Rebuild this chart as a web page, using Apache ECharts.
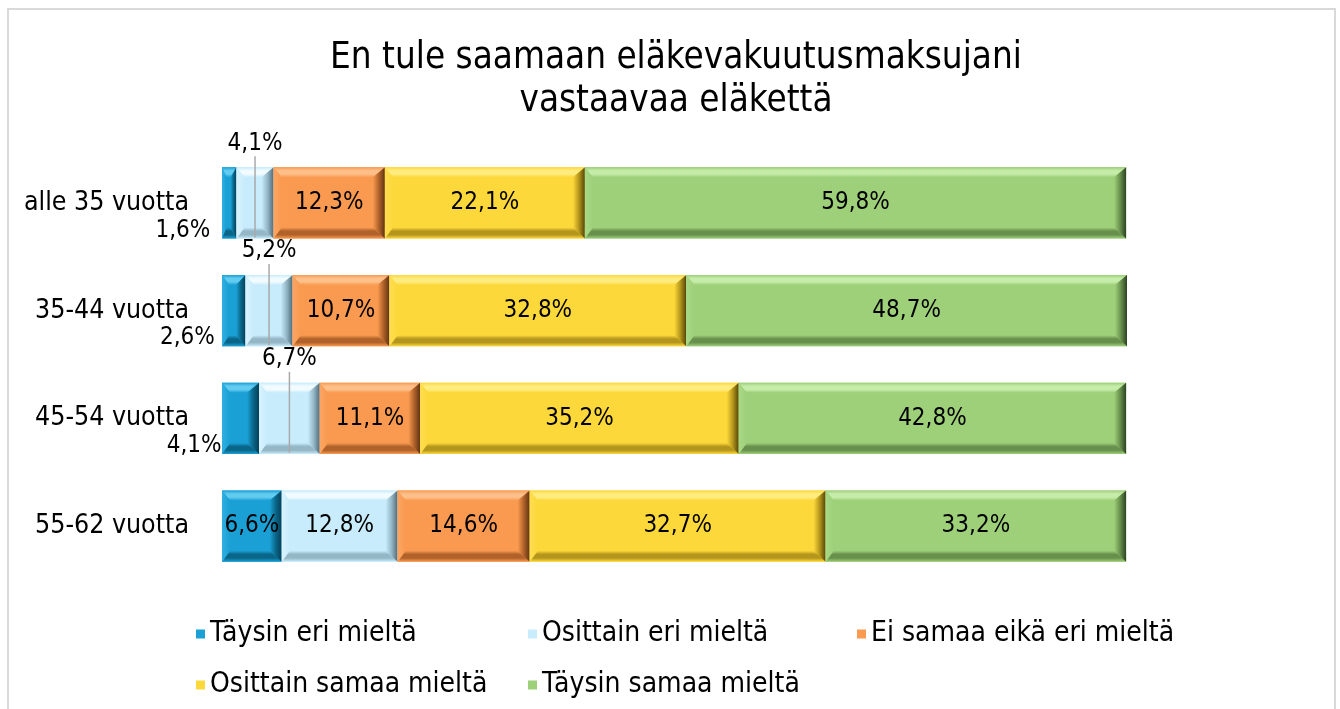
<!DOCTYPE html>
<html>
<head>
<meta charset="utf-8">
<script src="https://cdn.jsdelivr.net/npm/echarts@6/dist/echarts.min.js"></script>
<style>
  html, body { margin: 0; padding: 0; background: #ffffff; }
  #chart { width: 1340px; height: 709px; }
</style>
</head>
<body>
<div id="chart"></div>
<script>
// Age groups (top to bottom) and answer shares in percent
const categories = ['alle 35 vuotta', '35-44 vuotta', '45-54 vuotta', '55-62 vuotta'];
const seriesNames = ['Täysin eri mieltä', 'Osittain eri mieltä', 'Ei samaa eikä eri mieltä', 'Osittain samaa mieltä', 'Täysin samaa mieltä'];
const taysinEri = [1.6, 2.6, 4.1, 6.6];
const osittainEri = [4.1, 5.2, 6.7, 12.8];
const eiSamaaEikaEri = [12.3, 10.7, 11.1, 14.6];
const osittainSamaa = [22.1, 32.8, 35.2, 32.7];
const taysinSamaa = [59.8, 48.7, 42.8, 33.2];
const titleText = 'En tule saamaan eläkevakuutusmaksujani\nvastaavaa eläkettä';

const values = [taysinEri, osittainEri, eiSamaaEikaEri, osittainSamaa, taysinSamaa];

// Bevel palette per answer: face, top edge, left edge, bottom edge, right edge
const palette = [
  { face: '#1aa0d5', top: '#62cbf0', left: '#2fb0e0', bottom: '#0a6689', right: '#053f57' },
  { face: '#c8ecfc', top: '#f2fbff', left: '#d8f3fe', bottom: '#94b6c5', right: '#4f6d7c' },
  { face: '#f99a50', top: '#fdc08a', left: '#fba664', bottom: '#b0622a', right: '#5e3312' },
  { face: '#fdd83b', top: '#ffec80', left: '#fede50', bottom: '#b5961c', right: '#544509' },
  { face: '#9ecf79', top: '#c6ecaa', left: '#a9d985', bottom: '#68904d', right: '#2c4322' }
];

const FONT = '"DejaVu Sans Condensed", "DejaVu Sans", sans-serif';

function fmt(v) {
  return v.toFixed(1).replace('.', ',') + '%';
}

// Cumulative stacking for each row
function buildData(k) {
  return categories.map(function (c, i) {
    let start = 0;
    for (let j = 0; j < k; j++) start += values[j][i];
    return [i, start, start + values[k][i], values[k][i]];
  });
}

function grad(stops, horizontal) {
  return new echarts.graphic.LinearGradient(0, 0, horizontal ? 1 : 0, horizontal ? 0 : 1,
    stops.map(function (c, i) { return { offset: i / (stops.length - 1), color: c }; }));
}

function renderBevel(params, api) {
  const k = params.seriesIndex;
  const col = palette[k];
  const row = api.value(0);
  const s = api.value(1), e = api.value(2), v = api.value(3);
  const a = api.coord([s, row]);
  const b = api.coord([e, row]);
  const h = api.size([0, 1])[1] * 0.66;
  const x0 = a[0], x1 = b[0];
  const y0 = a[1] - h / 2, y1 = a[1] + h / 2;
  const w = x1 - x0;
  let l = 8, r = 12;
  if (l + r > w * 0.7) { l = w * 0.3; r = w * 0.4; }
  const t = 10, bt = 11;

  const children = [
    { type: 'rect', shape: { x: x0, y: y0, width: w, height: h }, style: { fill: col.face } },
    { type: 'polygon', shape: { points: [[x0, y0], [x1, y0], [x1 - r, y0 + t], [x0 + l, y0 + t]] },
      style: { fill: grad([col.face, col.top, col.top, col.face], false) } },
    { type: 'polygon', shape: { points: [[x0, y1], [x0 + l, y1 - bt], [x1 - r, y1 - bt], [x1, y1]] },
      style: { fill: grad([col.face, col.bottom, col.bottom, col.face], false) } },
    { type: 'polygon', shape: { points: [[x0, y0], [x0 + l, y0 + t], [x0 + l, y1 - bt], [x0, y1]] },
      style: { fill: grad([col.left, col.face], true) } },
    { type: 'polygon', shape: { points: [[x1, y0], [x1, y1], [x1 - r, y1 - bt], [x1 - r, y0 + t]] },
      style: { fill: grad([col.face, col.bottom, col.right], true) } }
  ];

  const cx = (x0 + x1) / 2;
  const textStyle = { text: fmt(v), font: '24px ' + FONT, fill: '#000000' };
  // the two smallest answers of the younger groups are labelled outside the bar
  if (k === 0 && row < 3) {
    children.push({ type: 'text', style: Object.assign({}, textStyle, {
      x: cx - 19, y: y1 - 8, align: 'right', verticalAlign: 'middle', textAlign: 'right', textVerticalAlign: 'middle' }) });
  } else if (k === 1 && row < 3) {
    children.push({ type: 'line', shape: { x1: cx, y1: y0 - 11, x2: cx, y2: y1 - 1 },
      style: { stroke: '#a9a9a9', lineWidth: 1.5 } });
    children.push({ type: 'text', style: Object.assign({}, textStyle, {
      x: cx, y: y0 - 24, align: 'center', verticalAlign: 'middle', textAlign: 'center', textVerticalAlign: 'middle' }) });
  } else {
    children.push({ type: 'text', style: Object.assign({}, textStyle, {
      x: cx, y: a[1], align: 'center', verticalAlign: 'middle', textAlign: 'center', textVerticalAlign: 'middle' }) });
  }
  return { type: 'group', children: children };
}

const chart = echarts.init(document.getElementById('chart'), null, { renderer: 'canvas' });

const legendText = { fontSize: 28, fontFamily: FONT, color: '#000000', lineHeight: 28 };
const legendBase = { orient: 'vertical', top: 615, itemGap: 23, icon: 'rect', itemWidth: 9, itemHeight: 9,
  textStyle: legendText, selectedMode: false };

chart.setOption({
  animation: false,
  backgroundColor: '#ffffff',
  title: {
    text: titleText, left: 671, top: 32, textAlign: 'center',
    textStyle: { fontSize: 36.5, fontWeight: 'normal', fontFamily: FONT, color: '#000000', lineHeight: 43 }
  },
  graphic: [
    { type: 'rect', shape: { x: 8, y: 9, width: 1327, height: 730 }, style: { fill: 'none', stroke: '#d9d9d9', lineWidth: 2 }, silent: true }
  ],
  legend: [
    Object.assign({}, legendBase, { left: 191, data: [seriesNames[0], seriesNames[3]] }),
    Object.assign({}, legendBase, { left: 523, data: [seriesNames[1], seriesNames[4]] }),
    Object.assign({}, legendBase, { left: 852, data: [seriesNames[2]] })
  ],
  grid: { left: 222, right: 213, top: 149, bottom: 129, containLabel: false },
  xAxis: { type: 'value', min: 0, max: 100, show: false },
  yAxis: {
    type: 'category', data: categories, inverse: true,
    axisLine: { show: false }, axisTick: { show: false }, splitLine: { show: false },
    axisLabel: { fontSize: 26.5, fontFamily: FONT, color: '#000000', margin: 33 }
  },
  series: seriesNames.map(function (name, k) {
    return {
      type: 'custom', name: name, clip: false,
      itemStyle: { color: palette[k].face },
      encode: { x: [1, 2], y: 0 },
      data: buildData(k),
      renderItem: renderBevel
    };
  })
});
</script>
</body>
</html>
